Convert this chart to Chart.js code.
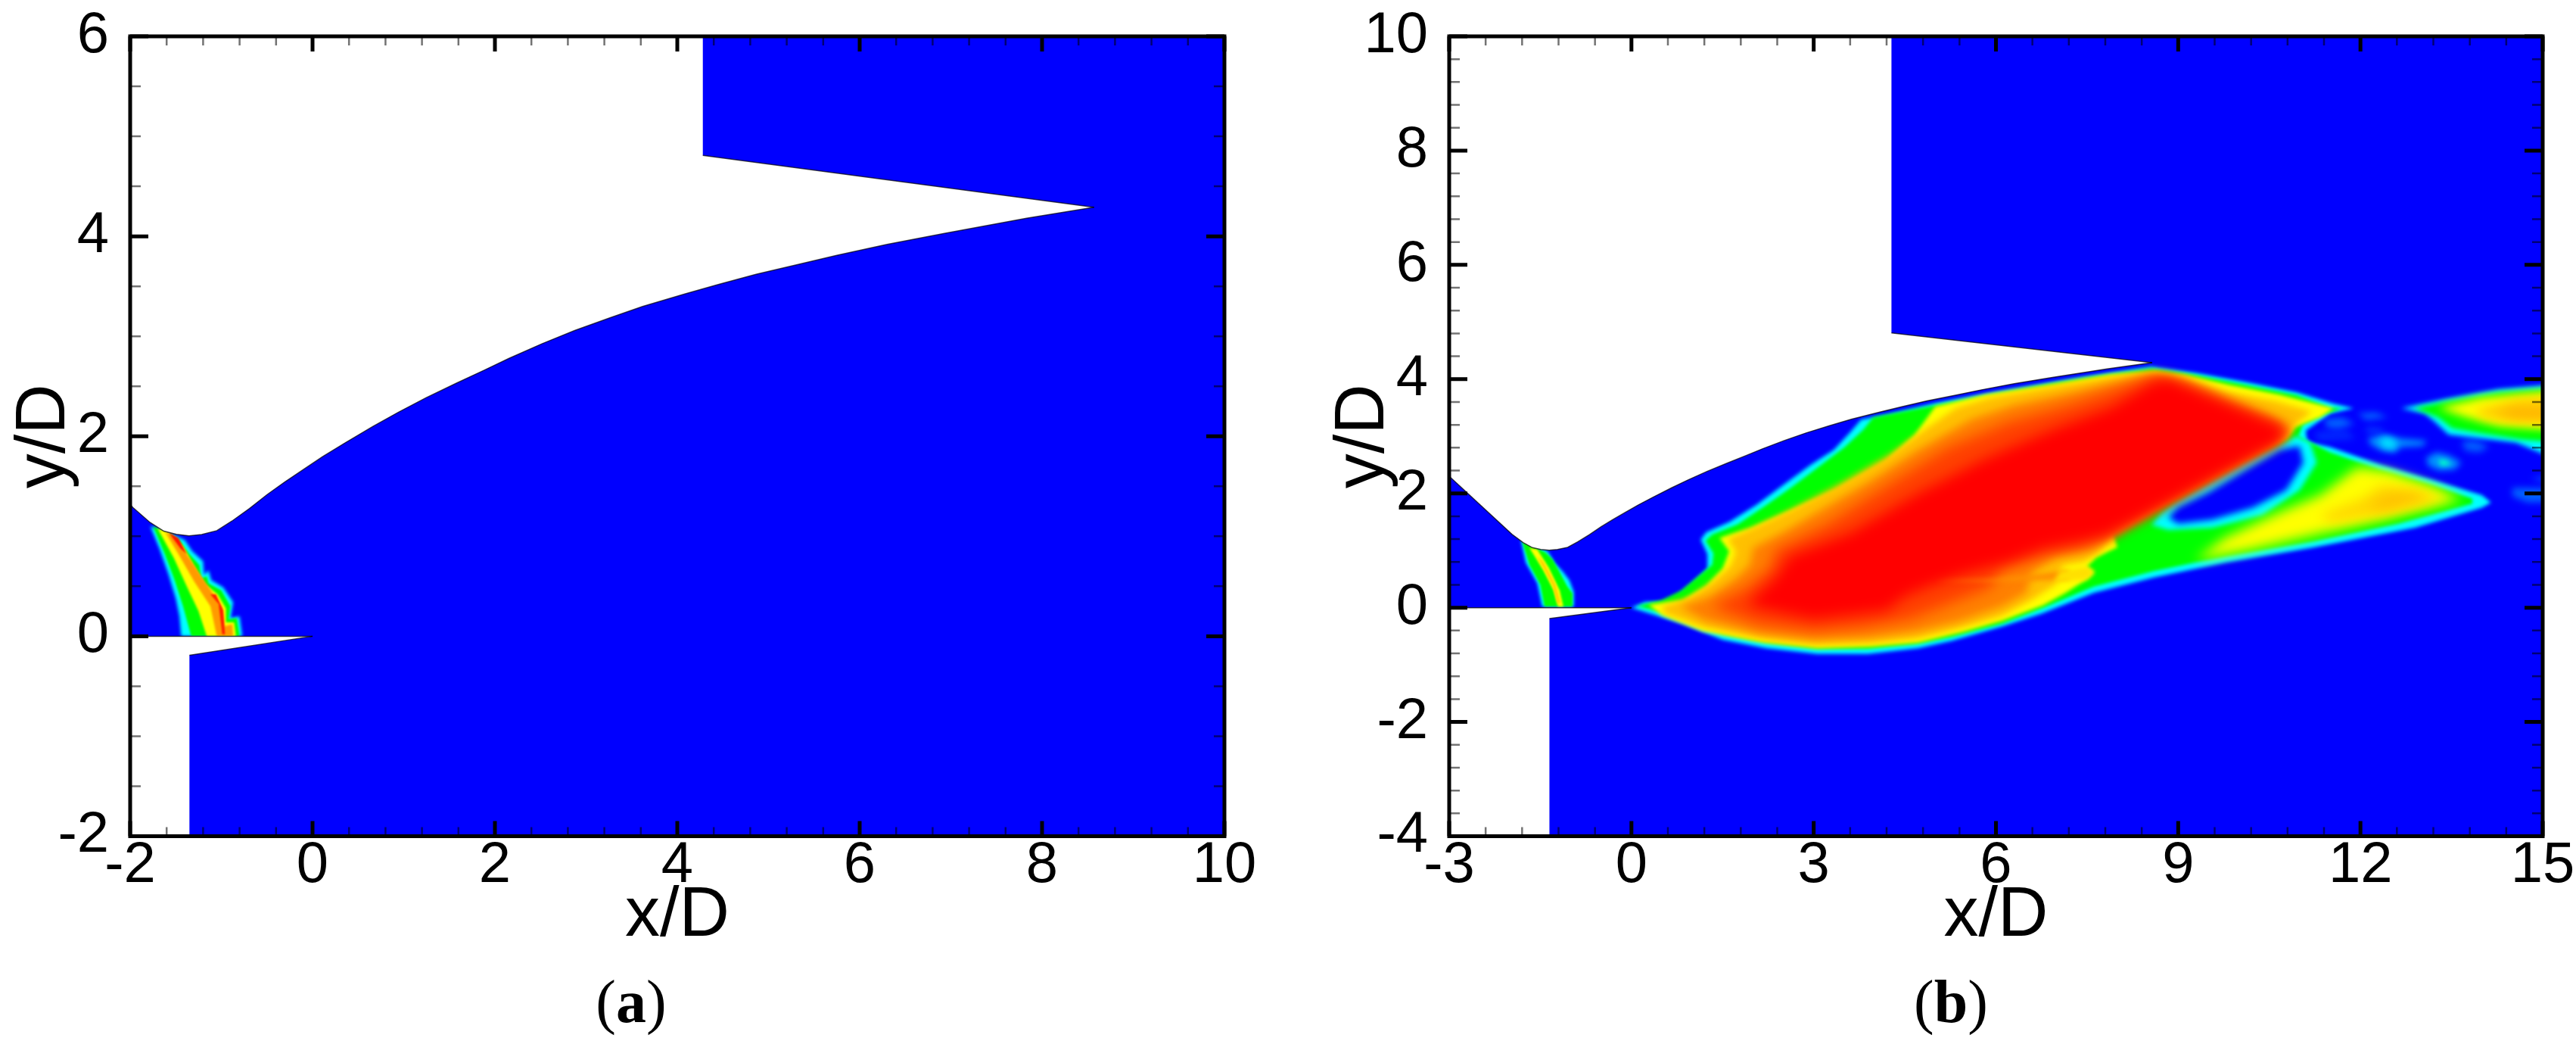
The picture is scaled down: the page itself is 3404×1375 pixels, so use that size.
<!DOCTYPE html>
<html>
<head>
<meta charset="utf-8">
<script src="https://cdn.jsdelivr.net/npm/chart.js@4"></script>
<style>
  body { margin: 0; background: #fff; overflow: hidden; }
  canvas { position: absolute; top: 0; }
  #chartA { left: 0; }
  #chartB { left: 1700px; }
  .cap { position: absolute; top: 1278px; font: 80px 'Liberation Serif'; transform: translateX(-50%); color: #000; }
  .cap b { font-weight: bold; }
</style>
</head>
<body>
<canvas id="chartA" width="1700" height="1375"></canvas>
<canvas id="chartB" width="1704" height="1375"></canvas>
<div class="cap" style="left:834px">(<b>a</b>)</div>
<div class="cap" style="left:2578px">(<b>b</b>)</div>
<script>
// axis ticks
const xMajorA = [-2, 0, 2, 4, 6, 8, 10];
const xMinorA = [-1.6, -1.2, -0.8, -0.4, 0.4, 0.8, 1.2, 1.6, 2.4, 2.8, 3.2, 3.6, 4.4, 4.8, 5.2, 5.6, 6.4, 6.8, 7.2, 7.6, 8.4, 8.8, 9.2, 9.6];
const yMajorA = [-2, 0, 2, 4, 6];
const yMinorA = [-1.5, -1, -0.5, 0.5, 1, 1.5, 2.5, 3, 3.5, 4.5, 5, 5.5];
const xMajorB = [-3, 0, 3, 6, 9, 12, 15];
const xMinorB = [-2.4, -1.8, -1.2, -0.6, 0.6, 1.2, 1.8, 2.4, 3.6, 4.2, 4.8, 5.4, 6.6, 7.2, 7.8, 8.4, 9.6, 10.2, 10.8, 11.4, 12.6, 13.2, 13.8, 14.4];
const yMajorB = [-4, -2, 0, 2, 4, 6, 8, 10];
const yMinorB = [-3.6, -3.2, -2.8, -2.4, -1.6, -1.2, -0.8, -0.4, 0.4, 0.8, 1.2, 1.6, 2.4, 2.8, 3.2, 3.6, 4.4, 4.8, 5.2, 5.6, 6.4, 6.8, 7.2, 7.6, 8.4, 8.8, 9.2, 9.6];

// geometry, same in both panels (clipped by the axes)
const domain = [[-3, -4], [16, -4], [16, 11], [-3, 11]];
const wallCurve = [[-3, 2.3], [-1.968, 1.286], [-1.783, 1.139], [-1.631, 1.051], [-1.493, 1.02], [-1.354, 1.005], [-1.216, 1.018], [-1.05, 1.056], [-0.884, 1.152], [-0.691, 1.278], [-0.498, 1.417], [-0.304, 1.543], [-0.11, 1.662], [0.11, 1.796], [0.359, 1.935], [0.663, 2.099], [0.94, 2.24], [1.244, 2.385], [1.575, 2.53], [1.88, 2.66], [2.156, 2.78], [2.515, 2.925], [2.875, 3.058], [3.262, 3.185], [3.62, 3.298], [4.09, 3.425], [4.45, 3.518], [4.865, 3.62], [5.335, 3.72], [5.749, 3.81], [6.302, 3.92], [6.93, 4.03], [7.83, 4.18], [8.57, 4.29]];
const cowlEdge = [[8.57, 4.29], [4.28, 4.81]];
const upperWhite = [...wallCurve, [4.28, 4.81], [4.28, 11], [-3, 11]];
const lipTop = [[-3, 0], [0, 0]];
const lipBottom = [[0, 0], [-1.35, -0.19]];
const lowerWhite = [[-3, 0], [0, 0], [-1.35, -0.19], [-1.35, -4], [-3, -4]];

// panel a, plume under the throat
const plumeCyanA = [[-1.78, 1.1], [-1.68, 0.88], [-1.58, 0.62], [-1.5, 0.38], [-1.46, 0.2], [-1.44, 0], [-0.77, 0], [-0.8, 0.2], [-0.9, 0.18], [-0.87, 0.34], [-0.98, 0.49], [-1.11, 0.56], [-1.14, 0.66], [-1.19, 0.61], [-1.2, 0.75], [-1.32, 0.85], [-1.4, 0.96], [-1.51, 1.01]];
const plumeGreenA = [[-1.75, 1.1], [-1.62, 0.82], [-1.52, 0.58], [-1.42, 0.3], [-1.36, 0.1], [-1.33, 0], [-0.8, 0], [-0.83, 0.18], [-0.92, 0.17], [-0.9, 0.3], [-1, 0.46], [-1.14, 0.53], [-1.16, 0.6], [-1.22, 0.58], [-1.24, 0.71], [-1.35, 0.82], [-1.45, 0.95], [-1.55, 1.02]];
const plumeYellowA = [[-1.7, 1.08], [-1.52, 0.78], [-1.38, 0.5], [-1.25, 0.25], [-1.16, 0], [-0.84, 0], [-0.86, 0.14], [-0.95, 0.14], [-0.95, 0.28], [-1.04, 0.42], [-1.18, 0.52], [-1.3, 0.7], [-1.42, 0.9], [-1.58, 1.04]];
const plumeOrangeA = [[-1.62, 1.05], [-1.47, 0.82], [-1.3, 0.55], [-1.12, 0.3], [-1.05, 0], [-0.87, 0], [-0.88, 0.12], [-0.97, 0.1], [-0.99, 0.28], [-1.1, 0.44], [-1.22, 0.6], [-1.35, 0.78], [-1.5, 0.98]];
const plumeRedTopA = [[-1.58, 1.04], [-1.45, 0.88], [-1.38, 0.82], [-1.47, 0.98]];
const plumeRedLowA = [[-1.12, 0.42], [-1.03, 0.32], [-0.99, 0.02], [-0.96, 0.02], [-0.98, 0.26], [-1.06, 0.42]];

// panel b, plume under the throat
const plumeCyanB = [[-1.82, 1.19], [-1.74, 0.79], [-1.55, 0.43], [-1.47, 0.02], [-0.95, 0.02], [-0.95, 0.28], [-1.02, 0.48], [-1.13, 0.63], [-1.27, 0.79], [-1.38, 0.99], [-1.55, 1.06]];
const plumeGreenB = [[-1.8, 1.16], [-1.68, 0.75], [-1.5, 0.4], [-1.43, 0.02], [-0.97, 0.02], [-0.97, 0.25], [-1.06, 0.38], [-1.17, 0.6], [-1.3, 0.85], [-1.42, 0.97], [-1.6, 1.07]];
const plumeYellowB = [[-1.68, 1.05], [-1.45, 0.65], [-1.28, 0.3], [-1.21, 0.02], [-1.12, 0.02], [-1.18, 0.3], [-1.36, 0.7], [-1.55, 1.02]];
const plumeGoldB = [[-1.55, 0.9], [-1.3, 0.4], [-1.22, 0.08], [-1.17, 0.08], [-1.25, 0.4], [-1.45, 0.8]];

// panel b, main jet contours
const jetCyan = [[0, 0], [0.23, 0.1], [0.5, 0.1], [0.78, 0.23], [1, 0.43], [1.25, 0.68], [1.25, 0.94], [1.14, 1.19], [1.23, 1.32], [1.61, 1.5], [2.06, 1.8], [2.5, 2.15], [2.95, 2.5], [3.33, 2.76], [3.6, 3.07], [3.78, 3.29], [4.2, 3.38], [5, 3.58], [6, 3.78], [6.78, 3.92], [7.39, 4.03], [8.06, 4.14], [8.56, 4.22], [9.28, 4.11], [10.1, 3.95], [10.95, 3.77], [11.56, 3.57], [11.89, 3.49], [11.5, 3.4], [11.1, 3.1], [11.12, 2.9], [11.5, 2.81], [12.34, 2.5], [13.17, 2.24], [14, 1.97], [14.15, 1.84], [14, 1.75], [12.9, 1.4], [11.2, 1.05], [9.78, 0.79], [8.6, 0.53], [7.61, 0.26], [6.76, -0.1], [6.1, -0.33], [5.27, -0.58], [4.72, -0.71], [3.89, -0.81], [3.06, -0.81], [2.22, -0.71], [1.5, -0.56], [0.84, -0.28], [0.39, -0.13]];
const jetGreen = [[0.1, 0.03], [0.5, 0.13], [0.82, 0.3], [1.1, 0.55], [1.33, 0.75], [1.35, 0.95], [1.22, 1.17], [1.33, 1.28], [1.75, 1.46], [2.2, 1.78], [2.65, 2.12], [3.1, 2.48], [3.5, 2.8], [3.82, 3.12], [3.98, 3.33], [5, 3.54], [6, 3.74], [6.78, 3.89], [7.5, 4.02], [8.1, 4.11], [8.56, 4.18], [9.28, 4.07], [10.1, 3.9], [10.95, 3.72], [11.5, 3.5], [11.7, 3.49], [11.4, 3.38], [11.05, 3.2], [10.98, 3], [11.5, 2.72], [12.34, 2.41], [13.17, 2.15], [13.84, 1.91], [13.84, 1.82], [12.62, 1.47], [11.23, 1.16], [9.78, 0.9], [8.6, 0.64], [7.61, 0.37], [6.78, 0], [6.1, -0.28], [5.27, -0.51], [4.72, -0.63], [3.89, -0.72], [3.06, -0.72], [2.22, -0.61], [1.5, -0.46], [0.84, -0.2], [0.39, -0.05]];
const bubbleCyan = [[11.17, 2.89], [11.28, 2.54], [11, 2.06], [10.39, 1.62], [9.56, 1.4], [8.84, 1.36], [8.56, 1.45], [8.73, 1.67], [8.95, 1.85], [9.5, 2.2], [10.1, 2.58], [10.65, 2.85], [10.95, 3]];
const bubbleBlue = [[11, 2.83], [11.06, 2.54], [10.78, 2.06], [10.23, 1.75], [9.56, 1.54], [9, 1.47], [8.84, 1.58], [9, 1.76], [9.5, 2.02], [10.12, 2.42], [10.67, 2.76]];
const lobeYellow = [[9.28, 0.83], [9.78, 1.23], [10.67, 1.67], [11.34, 1.97], [11.95, 2.46], [12.45, 2.39], [13.17, 2.13], [13.67, 1.89], [12.34, 1.54], [11.23, 1.27], [10.12, 1]];
const lobeGold = [[11.34, 1.62], [12.06, 1.93], [12.34, 2.15], [12.9, 2.06], [13.39, 1.91], [12.34, 1.62], [11.5, 1.49]];
const lobeDeep = [[12.1, 1.78], [12.5, 2], [12.9, 2], [13.1, 1.93], [12.4, 1.72]];
const coreYellow = [[0.28, 0.05], [0.84, 0.13], [1.23, 0.38], [1.5, 0.68], [1.61, 0.99], [1.45, 1.22], [1.95, 1.39], [2.5, 1.65], [3.33, 2.05], [4.17, 2.56], [4.66, 3.02], [5, 3.52], [5.83, 3.73], [6.78, 3.88], [7.89, 4.08], [8.62, 4.15], [9.11, 4.08], [9.84, 3.9], [10.67, 3.73], [11.56, 3.49], [11.34, 3.33], [11.06, 3.22], [10.92, 3.16], [10.78, 2.96], [10.39, 2.76], [9.56, 2.28], [8.73, 1.8], [7.89, 1.32], [7.95, 1.2], [8, 1.06], [7.65, 0.88], [7.5, 0.72], [7.62, 0.62], [7.5, 0.5], [7.15, 0.26], [6.78, 0.04], [6.1, -0.23], [5.44, -0.43], [4.72, -0.61], [3.94, -0.68], [3.06, -0.71], [2.17, -0.61], [1.17, -0.41], [0.5, -0.13]];
const coreGold = [[0.5, 0.02], [0.95, 0.17], [1.33, 0.45], [1.62, 0.72], [1.72, 0.98], [1.58, 1.2], [2.05, 1.42], [2.6, 1.7], [3.4, 2.15], [4.25, 2.68], [4.8, 3.1], [5.35, 3.5], [5.9, 3.68], [6.8, 3.85], [7.9, 4.04], [8.62, 4.1], [9.1, 4], [9.8, 3.78], [10.6, 3.62], [11.2, 3.43], [10.95, 3.22], [10.8, 3], [10.35, 2.74], [9.52, 2.26], [8.7, 1.78], [7.9, 1.25], [7.7, 0.97], [7.45, 0.8], [7.1, 0.74], [7.0, 0.42], [6.6, 0.14], [6.08, -0.15], [5.4, -0.36], [4.7, -0.54], [3.94, -0.62], [3.06, -0.65], [2.2, -0.55], [1.2, -0.35], [0.55, -0.1]];
const coreOrange = [[0.8, 0.02], [1.3, 0.2], [1.7, 0.5], [1.95, 0.75], [2, 1.05], [2.5, 1.32], [3.1, 1.7], [3.9, 2.2], [4.7, 2.75], [5.6, 3.3], [6.3, 3.55], [7.3, 3.78], [8.5, 4.06], [8.9, 4], [9.1, 3.98], [9.9, 3.6], [10.5, 3.35], [10.85, 3.1], [10.7, 2.92], [9.5, 2.22], [8.68, 1.74], [7.85, 1.22], [7.55, 1.0], [7, 0.9], [6.6, 0.62], [6.5, 0.26], [6.1, 0.02], [5.4, -0.24], [4.7, -0.42], [3.9, -0.52], [3, -0.55], [2.1, -0.45], [1.2, -0.22]];
const coreRedOrange = [[1.3, 0.02], [1.9, 0.35], [2.3, 0.72], [2.35, 1], [3.2, 1.45], [4.3, 2.2], [5.2, 2.8], [6.2, 3.25], [7.2, 3.55], [8.3, 3.95], [8.7, 4.08], [9.1, 3.9], [10.8, 3.15], [10.68, 2.92], [9.48, 2.21], [8.65, 1.73], [7.85, 1.24], [7.4, 1.06], [6.8, 0.92], [6.1, 0.68], [5.9, 0.35], [5.2, 0.05], [4.6, -0.2], [3.8, -0.35], [3, -0.42], [2.1, -0.3]];
const coreRed = [[1.9, 0.05], [2.4, 0.55], [2.6, 0.9], [3.6, 1.3], [4.72, 2], [5.83, 2.61], [6.9, 3.1], [7.9, 3.5], [8.6, 3.95], [8.84, 4], [10.75, 3.15], [10.65, 2.9], [9.45, 2.2], [8.62, 1.72], [7.8, 1.26], [7.4, 1.16], [6.8, 1.04], [6.2, 0.8], [5.5, 0.6], [5, 0.42], [4.5, 0.2], [4.2, -0.05], [3, -0.2], [2.3, -0.05]];
const streak = [[5, 0.47], [6, 0.5], [6.8, 0.6], [7.2, 0.66], [7.2, 0.5], [6.8, 0.48], [6, 0.46]];
const coreYellowPatch = [[6.95, 0.44], [7.5, 0.5], [7.62, 0.62], [7.5, 0.72], [7.05, 0.64]];

// panel b, lobe on the right edge
const rightCyan = [[12.67, 3.49], [13.45, 3.66], [14.28, 3.82], [15.4, 3.92], [15.4, 2.6], [15, 2.7], [14.56, 2.89], [13.45, 3.03], [13.23, 3.25], [13.06, 3.4]];
const rightGreen = [[12.89, 3.49], [13.45, 3.62], [14.28, 3.77], [15.4, 3.86], [15.4, 2.88], [14.67, 2.94], [14, 3.05], [13.51, 3.14], [13.28, 3.33]];
const rightYellow = [[13.28, 3.5], [14, 3.68], [15.4, 3.81], [15.4, 3.1], [14.28, 3.18], [13.73, 3.33]];
const rightGold = [[13.89, 3.46], [14.56, 3.66], [15.4, 3.72], [15.4, 3.22], [14.56, 3.25], [14, 3.33]];
const rightDeep = [[14.17, 3.4], [14.56, 3.51], [15.4, 3.5], [15.4, 3.3], [14.56, 3.31]];

// panel b, small eddies past the shock
const eddyA = [[12.12, 2.96], [12.39, 3.04], [12.67, 2.96], [13.09, 2.92], [13.03, 2.83], [12.67, 2.81], [12.56, 2.71], [12.34, 2.75], [12.17, 2.85]];
const eddyACore = [[12.3, 2.94], [12.45, 2.98], [12.6, 2.9], [12.55, 2.78], [12.38, 2.8]];
const eddyB = [[13.08, 2.62], [13.25, 2.72], [13.45, 2.67], [13.66, 2.54], [13.55, 2.42], [13.3, 2.4], [13.12, 2.48]];
const eddyBCore = [[13.28, 2.6], [13.42, 2.58], [13.5, 2.5], [13.32, 2.48]];
const eddyC = [[13.67, 2.92], [13.9, 2.92], [14.12, 2.82], [13.95, 2.72], [13.72, 2.75]];
const eddyD = [[14.5, 2.1], [14.75, 2.1], [15.4, 2.08], [15.4, 1.85], [14.75, 1.84], [14.5, 1.95]];
const eddyE = [[14.8, 2.25], [15.4, 2.4], [15.4, 2.1]];
const eddyF = [[11.4, 3.3], [11.7, 3.33], [11.9, 3.22], [11.65, 3.13], [11.45, 3.15]];
const eddyG = [[11.95, 3.4], [12.25, 3.42], [12.45, 3.33], [12.1, 3.28]];
const eddyH = [[11.25, 3.08], [11.8, 3.1], [11.9, 2.95], [11.3, 2.92]];
const eddyI = [[12.1, 3.16], [12.4, 3.14], [12.3, 3.05], [12.1, 3.06]];

const BLUE = '#0000ff', CYAN = '#00ffff', GREEN = '#00ff00', YELLOW = '#ffff00', WHITE = '#ffffff';

function area(points, color, blur) {
  return { pts: points, color, blur };
}
function edge(points) {
  return { pts: points, stroke: true };
}

const walls = [
  area(upperWhite, WHITE, 0), area(lowerWhite, WHITE, 0),
  edge(wallCurve), edge(cowlEdge), edge(lipTop), edge(lipBottom),
];

const layersA = [
  area(domain, BLUE, 0),
  area(plumeCyanA, CYAN, 2), area(plumeGreenA, GREEN, 1.5), area(plumeYellowA, YELLOW, 1.5),
  area(plumeOrangeA, '#ff9a00', 1.5), area(plumeRedTopA, '#ff1000', 1), area(plumeRedLowA, '#ff2000', 1),
  ...walls,
];

const layersB = [
  area(domain, BLUE, 0),
  area(eddyH, '#0028ff', 5), area(eddyI, '#0038ff', 4), area(eddyF, '#0060ff', 4), area(eddyG, '#0060ff', 4),
  area(eddyC, '#0060ff', 5), area(eddyD, '#0060ff', 4), area(eddyE, '#0040ff', 4),
  area(eddyA, '#0090ff', 4), area(eddyACore, '#00e0ff', 4), area(eddyB, '#0090ff', 4), area(eddyBCore, '#00ffc8', 3),
  area(plumeCyanB, CYAN, 2), area(plumeGreenB, GREEN, 1.5), area(plumeYellowB, YELLOW, 1.5), area(plumeGoldB, '#ffcc00', 1.5),
  area(rightCyan, CYAN, 3), area(rightGreen, GREEN, 3), area(rightYellow, YELLOW, 6), area(rightGold, '#ffd000', 7), area(rightDeep, '#ffb400', 7),
  area(jetCyan, CYAN, 2.5), area(jetGreen, GREEN, 2),
  area(bubbleCyan, CYAN, 3), area(bubbleBlue, BLUE, 4),
  area(lobeYellow, YELLOW, 8), area(lobeGold, '#ffd800', 8), area(lobeDeep, '#ffc000', 8),
  area(coreYellow, YELLOW, 2.5), area(coreGold, '#ffc000', 4), area(coreOrange, '#ff8000', 6),
  area(coreRedOrange, '#ff4000', 9), area(coreRed, '#ff0000', 9),
  area(streak, '#ff9000', 3), area(coreYellowPatch, '#ffe000', 3),
  ...walls,
];

function toDatasets(layers) {
  return layers.map((l, i) => ({
    data: l.pts.map(([x, y]) => ({ x, y })),
    order: layers.length - i,
    blur: l.blur || 0,
    fill: l.stroke ? false : 'shape',
    backgroundColor: l.color,
    borderColor: l.stroke ? 'rgba(0,0,0,0.7)' : 'transparent',
    borderWidth: l.stroke ? 1.5 : 0,
    pointRadius: 0,
    tension: 0,
  }));
}

// blur has to be set before the filler runs, so it is set after the previous dataset
const contourBlur = {
  id: 'contourBlur',
  beforeDatasetsDraw(chart) {
    chart.ctx.filter = 'none';
  },
  afterDatasetDraw(chart, args) {
    const next = chart.data.datasets[args.index + 1];
    chart.ctx.filter = next && next.blur ? `blur(${next.blur}px)` : 'none';
  },
  afterDatasetsDraw(chart) {
    chart.ctx.filter = 'none';
  },
};

function frameTicks(xMajor, xMinor, yMajor, yMinor) {
  return {
    id: 'frameTicks',
    afterDraw(chart) {
      const { ctx, chartArea: a, scales: { x, y } } = chart;
      const mark = (xVals, yVals, xLen, yLen, width, color) => {
        ctx.strokeStyle = color;
        ctx.lineWidth = width;
        ctx.beginPath();
        xVals.forEach((v) => {
          const px = x.getPixelForValue(v);
          ctx.moveTo(px, a.bottom); ctx.lineTo(px, a.bottom - xLen);
          ctx.moveTo(px, a.top); ctx.lineTo(px, a.top + xLen);
        });
        yVals.forEach((v) => {
          const py = y.getPixelForValue(v);
          ctx.moveTo(a.left, py); ctx.lineTo(a.left + yLen, py);
          ctx.moveTo(a.right, py); ctx.lineTo(a.right - yLen, py);
        });
        ctx.stroke();
      };
      mark(xMinor, yMinor, 12, 14, 2.5, 'rgba(0,0,0,0.55)');
      mark(xMajor, yMajor, 20, 24, 5, '#000');
      ctx.strokeStyle = '#000';
      ctx.lineWidth = 5;
      ctx.strokeRect(a.left, a.top, a.right - a.left, a.bottom - a.top);
    },
  };
}

function makePanel(id, layers, cfg) {
  const tickFont = { family: 'Liberation Sans', size: 76, lineHeight: 1 };
  const titleFont = { family: 'Liberation Sans', size: 92, lineHeight: 1 };
  return new Chart(document.getElementById(id), {
    type: 'line',
    data: { datasets: toDatasets(layers) },
    plugins: [contourBlur, frameTicks(cfg.xMajor, cfg.xMinor, cfg.yMajor, cfg.yMinor)],
    options: {
      responsive: false,
      devicePixelRatio: 1,
      animation: false,
      events: [],
      layout: { padding: { top: 48, right: cfg.right, left: 0, bottom: 0 } },
      plugins: { legend: { display: false }, tooltip: { enabled: false } },
      scales: {
        x: {
          type: 'linear',
          min: cfg.xMajor[0],
          max: cfg.xMajor[cfg.xMajor.length - 1],
          grid: { display: false },
          border: { display: false },
          afterBuildTicks: (s) => { s.ticks = cfg.xMajor.map((value) => ({ value })); },
          afterFit: (s) => { s.height = 270.5; s.paddingLeft = 0; s.paddingRight = 0; },
          ticks: { color: '#000', font: tickFont, padding: -6, maxRotation: 0, autoSkip: false },
          title: { display: true, text: 'x/D', color: '#000', font: titleFont, padding: { top: 0, bottom: 118 } },
        },
        y: {
          type: 'linear',
          min: cfg.yMajor[0],
          max: cfg.yMajor[cfg.yMajor.length - 1],
          grid: { display: false },
          border: { display: false },
          afterBuildTicks: (s) => { s.ticks = cfg.yMajor.map((value) => ({ value })); },
          afterFit: (s) => { s.width = cfg.left; s.paddingTop = 0; s.paddingBottom = 0; },
          ticks: { color: '#000', font: tickFont, padding: 20, autoSkip: false },
          title: { display: true, text: 'y/D', color: '#000', font: titleFont, padding: { top: cfg.titleGap, bottom: 0 } },
        },
      },
    },
  });
}

makePanel('chartA', layersA, { xMajor: xMajorA, xMinor: xMinorA, yMajor: yMajorA, yMinor: yMinorA, left: 172, right: 82, titleGap: 14 });
makePanel('chartB', layersB, { xMajor: xMajorB, xMinor: xMinorB, yMajor: yMajorB, yMinor: yMinorB, left: 215, right: 44, titleGap: 57 });
</script>
</body>
</html>
